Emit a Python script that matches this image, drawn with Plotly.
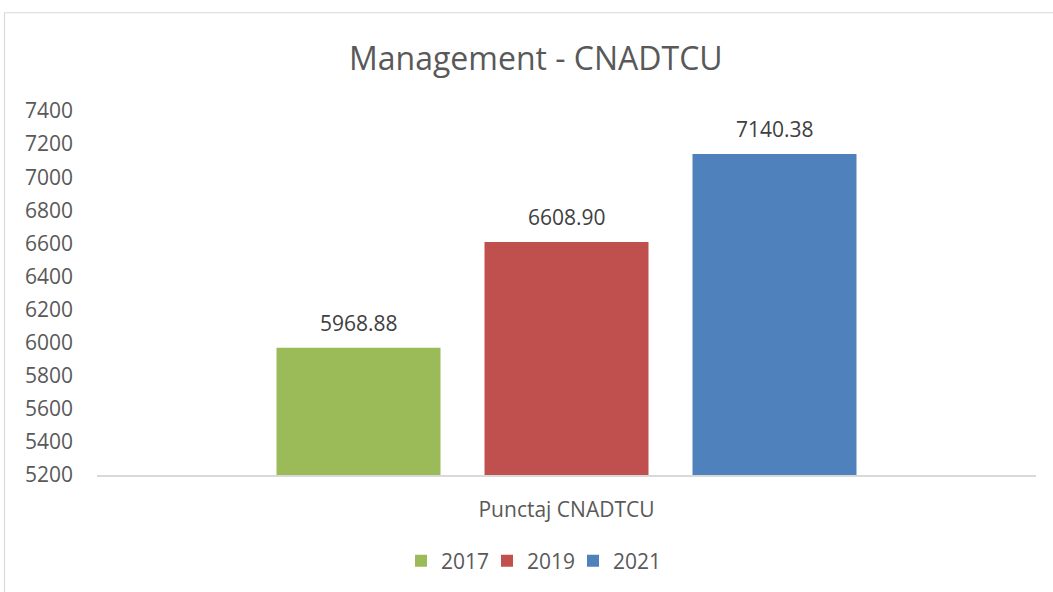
import plotly.graph_objects as go

title = "Management - CNADTCU"
category = ["Punctaj CNADTCU"]
years = ["2017", "2019", "2021"]
values = [5968.88, 6608.90, 7140.38]
colors = ["#9bbb59", "#c0504d", "#4f81bd"]
y_ticks = [5200, 5400, 5600, 5800, 6000, 6200, 6400, 6600, 6800, 7000, 7200, 7400]

W, H = 1053, 592
L, R, T, B = 97, 17, 111, 116
pw, ph = W - L - R, H - T - B

def px(x):
    return (x - L) / pw

def py(y):
    return (H - B - y) / ph

FONT = "Open Sans"
fig = go.Figure()
for yr, v, c in zip(years, values, colors):
    fig.add_trace(go.Bar(x=category, y=[v], name=yr, marker=dict(color=c, line=dict(width=0))))

slot = 208
for i, v in enumerate(values):
    fig.add_annotation(x=category[0], y=v, xref="x", yref="y", text=f"{v:.2f}",
                       showarrow=False, xshift=(i - 1) * slot, yshift=25,
                       font=dict(family=FONT, size=21, color="#404040"))

fig.add_annotation(x=px(536), y=py(57), xref="paper", yref="paper", text=title,
                   showarrow=False, xanchor="center", yanchor="middle",
                   font=dict(family=FONT, size=32, color="#595959"))

fig.add_shape(type="rect", xref="paper", yref="paper",
              x0=px(4.5), x1=px(1070), y0=py(12.5), y1=py(610),
              line=dict(color="#d9d9d9", width=1.2), fillcolor="rgba(0,0,0,0)", layer="below")

fig.update_layout(
    width=W, height=H,
    margin=dict(l=L, r=R, t=T, b=B),
    paper_bgcolor="white", plot_bgcolor="white",
    barmode="group", bargap=0.3355, bargroupgap=0.2115,
    showlegend=True,
    legend=dict(orientation="h", x=px(530), y=py(561), xanchor="center", yanchor="middle",
                font=dict(family=FONT, size=21, color="#595959"), itemwidth=30,
                entrywidth=41, entrywidthmode="pixels",
                traceorder="normal"),
    font=dict(family=FONT, size=21, color="#595959"),
)
fig.update_xaxes(showline=True, linecolor="#d9d9d9", linewidth=2, showgrid=False,
                 ticks="", ticklabelstandoff=15,
                 tickfont=dict(family=FONT, size=21, color="#595959"))
fig.update_yaxes(range=[5200, 7400], tickvals=y_ticks, ticktext=[str(t) for t in y_ticks],
                 showline=False, showgrid=False, zeroline=False, ticks="",
                 ticklabelstandoff=23,
                 tickfont=dict(family=FONT, size=21, color="#595959"))

fig.write_html("out.html", config={"displayModeBar": False},
               post_script="document.body.style.margin='0';")
